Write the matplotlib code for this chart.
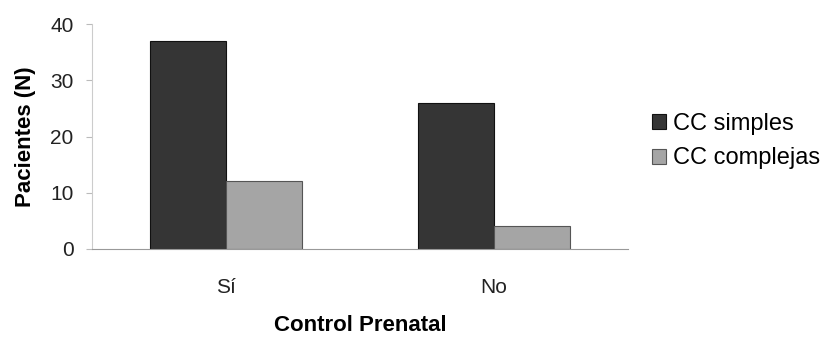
import numpy as np
import matplotlib.pyplot as plt

categories = ['Sí', 'No']
cc_simples = [37, 26]
cc_complejas = [12, 4]

plt.rcParams['font.family'] = ['Liberation Sans', 'DejaVu Sans']

fig = plt.figure(figsize=(8.33, 3.4), dpi=100)
ax = fig.add_axes([0.110, 0.268, 0.644, 0.661])

x = np.arange(len(categories))
w = 0.284
ax.bar(x - w / 2, cc_simples, w, color='#353535', edgecolor='#111111', linewidth=0.8, label='CC simples')
ax.bar(x + w / 2, cc_complejas, w, color='#a5a5a5', edgecolor='#555555', linewidth=0.8, label='CC complejas')

ax.set_xlim(-0.5, 1.5)
ax.set_ylim(0, 40)
ax.set_yticks([0, 10, 20, 30, 40])
ax.set_xticks(x)
ax.set_xticklabels(categories)
ax.tick_params(axis='both', labelsize=15, colors='#222222')
ax.tick_params(axis='x', length=0, pad=21)
ax.tick_params(axis='y', length=4, color='#bbbbbb', pad=9)

for s in ['top', 'right']:
    ax.spines[s].set_visible(False)
ax.spines['left'].set_color('#cccccc')
ax.spines['bottom'].set_color('#999999')

ax.set_ylabel('Pacientes (N)', fontsize=16, fontweight='bold', labelpad=10)
ax.set_xlabel('Control Prenatal', fontsize=16, fontweight='bold', labelpad=13)

ax.legend(loc='center left', bbox_to_anchor=(1.045, 0.48), frameon=False, fontsize=17,
          handlelength=0.6, handleheight=0.6, handletextpad=0.3, labelspacing=0.55,
          borderaxespad=0, borderpad=0)

fig.savefig('out.png', dpi=100)
